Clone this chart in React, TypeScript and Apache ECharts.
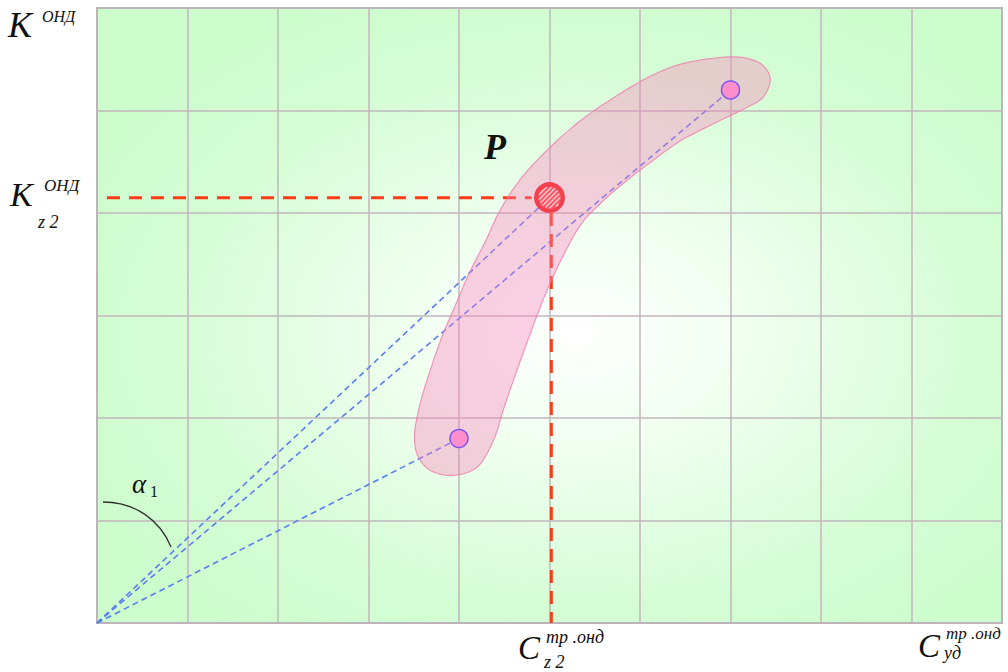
import React, { useEffect, useRef } from "react";
import * as echarts from "echarts";

// Axis extents (grid cells)
const xMax = 10;
const yMax = 6;

// Key points of the diagram
const origin: [number, number] = [0, 0];
const lowerPoint: [number, number] = [4.0, 1.8];
const upperPoint: [number, number] = [7.0, 5.2];
const pointP: [number, number] = [5.0, 4.15];

// Outline of the admissible region (curved band), in axis units
const bandOutline: [number, number][] = [
  [7.44, 5.31], [7.33, 5.46], [7.1, 5.52], [6.81, 5.51], [6.44, 5.45],
  [6.08, 5.32], [5.7, 5.12], [5.34, 4.9], [4.97, 4.61], [4.67, 4.32],
  [4.45, 4.02], [4.29, 3.72], [4.11, 3.41], [3.96, 3.1], [3.81, 2.79],
  [3.68, 2.46], [3.58, 2.17], [3.51, 1.86], [3.54, 1.64], [3.68, 1.49],
  [3.93, 1.44], [4.2, 1.52], [4.38, 1.78], [4.49, 2.08], [4.59, 2.34],
  [4.79, 2.83], [4.97, 3.24], [5.15, 3.58], [5.34, 3.88], [5.56, 4.09],
  [5.83, 4.3], [6.11, 4.49], [6.44, 4.7], [6.81, 4.87], [7.18, 5.03],
  [7.36, 5.13],
];

const rayTargets: [number, number][] = [lowerPoint, pointP, upperPoint];

const serif = '"Liberation Serif", "Times New Roman", serif';

function label(
  text: string,
  x: number,
  y: number,
  size: number,
  opts: { italic?: boolean; bold?: boolean } = {}
) {
  return {
    type: "text",
    x,
    y,
    z: 100,
    style: {
      text,
      fontSize: size,
      fontFamily: serif,
      fontStyle: opts.italic === false ? "normal" : "italic",
      fontWeight: opts.bold ? "bold" : "normal",
      fill: "#111",
      align: "left",
      verticalAlign: "middle",
    },
  };
}

// Closed Catmull-Rom curve through the given pixel points
function closedSpline(pts: number[][], steps: number): number[][] {
  const n = pts.length;
  const out: number[][] = [];
  for (let i = 0; i < n; i++) {
    const p0 = pts[(i - 1 + n) % n];
    const p1 = pts[i];
    const p2 = pts[(i + 1) % n];
    const p3 = pts[(i + 2) % n];
    for (let s = 0; s < steps; s++) {
      const t = s / steps;
      const t2 = t * t;
      const t3 = t2 * t;
      const f = (a: number, b: number, c: number, d: number) =>
        0.5 * (2 * b + (-a + c) * t + (2 * a - 5 * b + 4 * c - d) * t2 + (-a + 3 * b - 3 * c + d) * t3);
      out.push([f(p0[0], p1[0], p2[0], p3[0]), f(p0[1], p1[1], p2[1], p3[1])]);
    }
  }
  return out;
}

// Hatched marker for point P: ring, fill and diagonal white strokes
function renderP(_params: any, api: any) {
  const [cx, cy] = api.coord(pointP);
  const outer = 15.5;
  const inner = 11.2;
  const step = 3.4;
  const children: any[] = [
    {
      type: "circle",
      shape: { cx, cy, r: outer },
      style: { fill: "#f2404f" },
    },
    {
      type: "circle",
      shape: { cx, cy, r: inner },
      style: { fill: "#ff5a6a" },
    },
  ];
  const s = Math.SQRT1_2;
  for (let d = -inner + step / 2; d < inner; d += step) {
    const h = Math.sqrt(Math.max(inner * inner - d * d, 0)) - 0.6;
    if (h <= 0) continue;
    const mx = cx + d * s;
    const my = cy + d * s;
    children.push({
      type: "line",
      shape: { x1: mx - h * s, y1: my + h * s, x2: mx + h * s, y2: my - h * s },
      style: { stroke: "rgba(255,255,255,0.85)", lineWidth: 1.1 },
    });
  }
  return { type: "group", children };
}

export default function App() {
  const ref = useRef<HTMLDivElement>(null);

  useEffect(() => {
    if (!ref.current) return;
    const chart = echarts.init(ref.current, null, { renderer: "svg" });

    const rays = rayTargets.map((t) => ({
      type: "line",
      data: [origin, t],
      symbol: "none",
      silent: true,
      z: 2,
      lineStyle: { color: "#5a7cf4", width: 1.6, type: [6, 4] },
    }));

    chart.setOption({
      animation: false,
      backgroundColor: "#ffffff",
      grid: {
        left: 97,
        top: 8,
        right: 6,
        bottom: 49,
        show: true,
        borderColor: "#b0b0b0",
        borderWidth: 2,
        backgroundColor: {
          type: "radial",
          x: 0.53,
          y: 0.53,
          r: 0.62,
          colorStops: [
            { offset: 0, color: "#ffffff" },
            { offset: 0.25, color: "#f3fff3" },
            { offset: 0.7, color: "#d6fdd6" },
            { offset: 1, color: "#ccfccc" },
          ],
        },
      },
      xAxis: {
        type: "value",
        min: 0,
        max: xMax,
        interval: 1,
        axisLabel: { show: false },
        axisTick: { show: false },
        axisLine: { show: false },
        splitLine: { show: true, lineStyle: { color: "#c2b6bc", width: 1.5 } },
      },
      yAxis: {
        type: "value",
        min: 0,
        max: yMax,
        interval: 1,
        axisLabel: { show: false },
        axisTick: { show: false },
        axisLine: { show: false },
        splitLine: { show: true, lineStyle: { color: "#c2b6bc", width: 1.5 } },
      },
      series: [
        ...rays,
        {
          // drop line from the lower point
          type: "line",
          data: [lowerPoint, [lowerPoint[0], 0]],
          symbol: "none",
          silent: true,
          z: 2,
          lineStyle: { color: "#c4c4c4", width: 1.5, type: [5, 3] },
        },
        {
          // projection of P onto the vertical axis
          type: "line",
          data: [[0.11, pointP[1]], [pointP[0] - 0.2, pointP[1]]],
          symbol: "none",
          silent: true,
          z: 2,
          lineStyle: { color: "#ff3a14", width: 3, type: [13, 9] },
        },
        {
          // projection of P onto the horizontal axis
          type: "line",
          data: [[pointP[0] + 0.02, pointP[1] - 0.15], [pointP[0] + 0.02, 0]],
          symbol: "none",
          silent: true,
          z: 2,
          lineStyle: { color: "#ff3a14", width: 3, type: [13, 8] },
        },
        {
          type: "custom",
          data: [[0, 0]],
          silent: true,
          z: 3,
          renderItem: (_params: any, api: any) => {
            const pts = closedSpline(bandOutline.map((p) => api.coord(p)), 6);
            return {
              type: "polygon",
              shape: { points: pts },
              style: {
                fill: "rgba(250,130,190,0.38)",
                stroke: "rgba(240,120,170,0.75)",
                lineWidth: 1.2,
              },
            };
          },
        },
        {
          type: "scatter",
          data: [lowerPoint, upperPoint],
          symbol: "circle",
          symbolSize: 18,
          silent: true,
          z: 4,
          itemStyle: { color: "#ff8fcc", borderColor: "#7a55f0", borderWidth: 1.5, opacity: 1 },
        },
        {
          type: "custom",
          data: [pointP],
          silent: true,
          z: 5,
          renderItem: renderP,
        },
      ],
      graphic: [
        label("K", 8, 25, 36),
        label("ОНД", 42, 16, 16),
        label("K", 10, 194, 34),
        label("ОНД", 44, 185, 17),
        label("z 2", 38, 222, 18),
        label("C", 518, 648, 33),
        label("тр .онд", 546, 637, 18),
        label("z 2", 544, 662, 18),
        label("C", 918, 646, 33),
        label("тр .онд", 946, 633, 17),
        label("уд", 944, 653, 18),
        label("P", 484, 147, 36, { bold: true }),
        label("α", 132, 484, 27),
        label("1", 150, 491, 16, { italic: false }),
        {
          type: "bezierCurve",
          z: 100,
          shape: { x1: 103, y1: 502, cpx1: 135, cpy1: 502, cpx2: 160, cpy2: 520, x2: 171, y2: 547 },
          style: { stroke: "#333", lineWidth: 1.3, fill: null },
        },
      ],
    });

    return () => chart.dispose();
  }, []);

  return (
    <div
      ref={ref}
      style={{ position: "fixed", left: 0, top: 0, width: 1008, height: 672, background: "#fff" }}
    />
  );
}
